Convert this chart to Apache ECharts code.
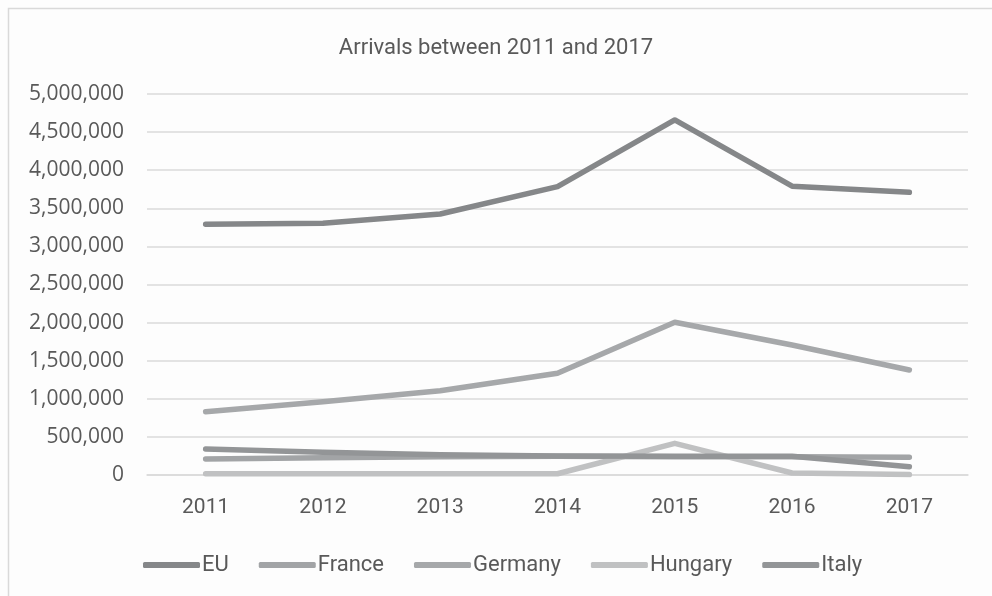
<!DOCTYPE html>
<html>
<head>
<meta charset="utf-8">
<script src="https://cdn.jsdelivr.net/npm/echarts@6/dist/echarts.min.js"></script>
<style>
  html, body { margin: 0; padding: 0; background: #fdfdfd; }
  #chart { width: 992px; height: 596px; }
</style>
</head>
<body>
<div id="chart"></div>
<script>
// Arrivals per year, 2011–2017
const years = ['2011', '2012', '2013', '2014', '2015', '2016', '2017'];
const eu      = [3290000, 3305000, 3425000, 3785000, 4660000, 3790000, 3710000];
const france  = [210000, 225000, 240000, 245000, 240000, 240000, 232000];
const germany = [831000, 962000, 1106000, 1335000, 2004000, 1706000, 1378000];
const hungary = [16000, 16000, 16000, 16000, 416000, 26000, 5000];
const italy   = [341000, 298000, 265000, 250000, 245000, 245000, 109000];

const seriesNames = ['EU', 'France', 'Germany', 'Hungary', 'Italy'];
const seriesData = [eu, france, germany, hungary, italy];
const seriesColors = ['#858789', '#a2a4a6', '#a6a8aa', '#c0c1c2', '#939597'];

const textColor = '#595959';
const gridColor = '#dadada';

const chart = echarts.init(document.getElementById('chart'), null, { renderer: 'canvas' });

chart.setOption({
  backgroundColor: '#fdfdfd',
  animation: false,
  color: seriesColors,
  graphic: [{
    type: 'rect',
    shape: { x: 8.5, y: 8.5, width: 1000, height: 1000 },
    style: { fill: 'none', stroke: '#d9d9d9', lineWidth: 1.5 },
    silent: true,
    z: -1
  }],
  title: {
    text: 'Arrivals between 2011 and 2017',
    left: 'center',
    top: 32,
    textStyle: { fontFamily: 'Roboto', fontSize: 22, fontWeight: 'normal', color: textColor }
  },
  legend: {
    data: seriesNames,
    left: 143,
    top: 554,
    padding: 0,
    itemWidth: 57,
    itemHeight: 6,
    itemGap: 30,
    icon: 'roundRect',
    textStyle: { fontFamily: 'Roboto', fontSize: 22, color: textColor, padding: [0, 0, 0, -3] }
  },
  grid: { left: 147, right: 24, top: 94, bottom: 121, containLabel: false },
  xAxis: {
    type: 'category',
    data: years,
    boundaryGap: true,
    axisLine: { show: true, lineStyle: { color: gridColor, width: 1.5 } },
    axisTick: { show: false },
    axisLabel: { fontFamily: 'Roboto', fontSize: 21, color: textColor, margin: 22 }
  },
  yAxis: {
    type: 'value',
    min: 0,
    max: 5000000,
    interval: 500000,
    axisLine: { show: false },
    axisTick: { show: false },
    splitLine: { lineStyle: { color: gridColor, width: 1.5 } },
    axisLabel: {
      fontFamily: 'Open Sans',
      fontSize: 21,
      color: textColor,
      margin: 23,
      formatter: v => v.toLocaleString('en-US')
    }
  },
  series: seriesNames.map((name, i) => ({
    name,
    type: 'line',
    data: seriesData[i],
    symbol: 'none',
    lineStyle: { width: 5.5, color: seriesColors[i], cap: 'round', join: 'round' },
    itemStyle: { color: seriesColors[i] }
  }))
});
</script>
</body>
</html>
